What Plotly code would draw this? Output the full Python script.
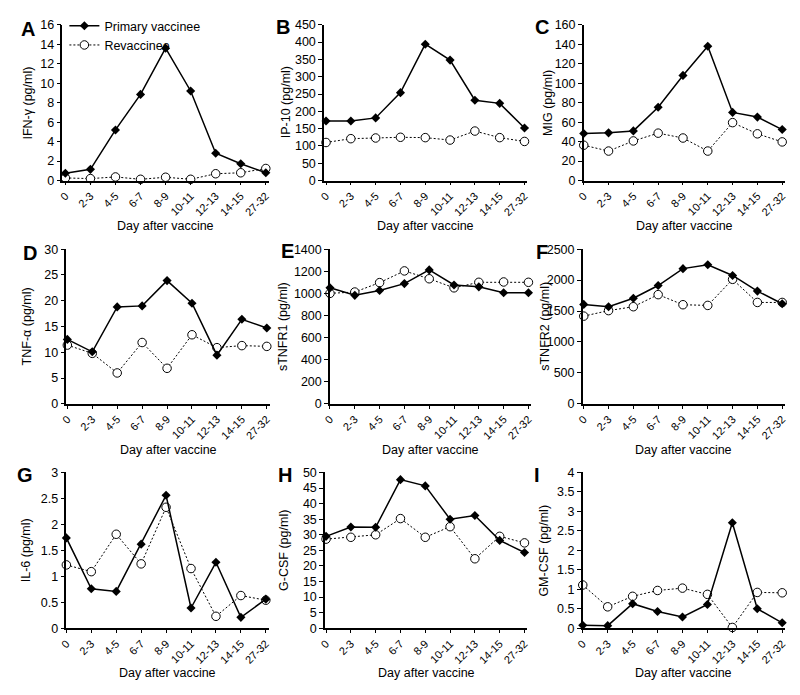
import plotly.graph_objects as go

# The page body has an 8px default margin, so the figure is drawn
# 8px smaller and every pixel position below is shifted by OFF.
OFF = 8
W, H = 800 - OFF, 695 - OFF

days = ["0", "2-3", "4-5", "6-7", "8-9", "10-11", "12-13", "14-15", "27-32"]

ifng_primary = [0.75, 1.15, 5.2, 8.85, 13.6, 9.2, 2.8, 1.72, 0.8]
ifng_revacc = [0.27, 0.2, 0.37, 0.13, 0.34, 0.13, 0.7, 0.8, 1.24]

ip10_primary = [172, 172, 181, 254, 394, 348, 232, 223, 152]
ip10_revacc = [110, 121, 123, 125, 124, 117, 143, 124, 113]

mig_primary = [48.4, 49, 51, 75.3, 108, 138, 70, 65.2, 52.4]
mig_revacc = [36.3, 30.3, 40.7, 48.7, 43.7, 30.3, 59.5, 48, 39.7]

tnfa_primary = [12.5, 10.1, 18.8, 19.0, 23.9, 19.5, 9.45, 16.4, 14.7]
tnfa_revacc = [11.4, 9.8, 6.0, 11.9, 6.9, 13.4, 10.9, 11.3, 11.15]

stnfr1_primary = [1050, 982, 1026, 1088, 1212, 1076, 1059, 1006, 1006]
stnfr1_revacc = [1000, 1012, 1097, 1203, 1132, 1050, 1100, 1103, 1100]

stnfr2_primary = [1607, 1570, 1707, 1912, 2185, 2248, 2075, 1822, 1618]
stnfr2_revacc = [1418, 1507, 1570, 1765, 1602, 1591, 2012, 1639, 1639]

il6_primary = [1.74, 0.76, 0.71, 1.62, 2.56, 0.39, 1.27, 0.21, 0.56]
il6_revacc = [1.22, 1.09, 1.81, 1.24, 2.33, 1.15, 0.23, 0.63, 0.54]

gcsf_primary = [29.5, 32.5, 32.4, 47.7, 45.7, 35.0, 36.2, 28.2, 24.3]
gcsf_revacc = [28.6, 29.2, 30.0, 35.2, 29.2, 32.6, 22.3, 29.5, 27.4]

gmcsf_primary = [0.076, 0.067, 0.63, 0.43, 0.29, 0.61, 2.71, 0.5, 0.14]
gmcsf_revacc = [1.11, 0.55, 0.82, 0.97, 1.03, 0.87, 0.02, 0.92, 0.91]

panel_letters = ["A", "B", "C", "D", "E", "F", "G", "H", "I"]
y_titles = ["IFN-γ (pg/ml)", "IP-10 (pg/ml)", "MIG (pg/ml)",
            "TNF-α (pg/ml)", "sTNFR1 (pg/ml)", "sTNFR2 (pg/ml)",
            "IL-6 (pg/ml)", "G-CSF (pg/ml)", "GM-CSF (pg/ml)"]
y_max = [16, 450, 160, 30, 1400, 2500, 3, 50, 4]
y_dtick = [2, 50, 20, 5, 200, 500, 0.5, 5, 0.5]
x_title = "Day after vaccine"
series_names = ["Primary vaccinee", "Revaccinee"]

primary = [ifng_primary, ip10_primary, mig_primary, tnfa_primary, stnfr1_primary,
           stnfr2_primary, il6_primary, gcsf_primary, gmcsf_primary]
revacc = [ifng_revacc, ip10_revacc, mig_revacc, tnfa_revacc, stnfr1_revacc,
          stnfr2_revacc, il6_revacc, gcsf_revacc, gmcsf_revacc]

# layout geometry (page pixels, converted with OFF below)
x_geom = [(55, 58, 261), (320, 322, 523), (583, 583, 784),
          (59, 60, 262), (326, 326, 527), (582, 583, 784),
          (59, 59, 261), (321, 322, 523), (582, 582, 784)]
row_y = [(18, 177), (247, 405), (475, 634)]
ytitle_x = [20, 281, 546, 19, 278, 543, 19, 280, 543]
letter_pos = [(20, 22), (278, 20), (541, 20), (22, 251), (283, 249), (541, 250),
              (17, 478), (280, 478), (536, 478)]
xtitle_y = [223, 452, 680]


def px(v):
    return (v - OFF) / W


def py(v):
    return 1 - (v - OFF) / H


FONT = "Liberation Sans, Arial, sans-serif"

fig = go.Figure()
annotations = []
layout = {}
for i in range(9):
    r, c = divmod(i, 3)
    n = "" if i == 0 else str(i + 1)
    ax_left, p0, p8 = x_geom[i]
    u = (p8 - p0) / 8.0
    xr = [-(p0 - ax_left) / u, 8 + 3 / u]
    y_top, y_bot = row_y[r]
    layout["xaxis" + n] = dict(
        domain=[px(ax_left), px(p8 + 3)], anchor="y" + n, type="category",
        range=xr, showline=True, linecolor="black", linewidth=1.5,
        ticks="outside", ticklen=3, tickwidth=1.3, tickcolor="black",
        tickangle=-45, showgrid=False, zeroline=False,
        tickfont=dict(family=FONT, size=11, color="black"))
    layout["yaxis" + n] = dict(
        domain=[py(y_bot), py(y_top)], anchor="x" + n,
        range=[0, y_max[i]], dtick=y_dtick[i], tick0=0,
        showline=True, linecolor="black", linewidth=1.5,
        ticks="outside", ticklen=4, tickwidth=1.3, tickcolor="black",
        showgrid=False, zeroline=False,
        tickfont=dict(family=FONT, size=12.5, color="black"))
    fig.add_trace(go.Scatter(
        x=days, y=revacc[i], xaxis="x" + n, yaxis="y" + n,
        mode="lines+markers", name=series_names[1], showlegend=(i == 0),
        legendrank=2,
        line=dict(color="black", width=1, dash="2px,2px"),
        marker=dict(symbol="circle", size=8.5, color="white",
                    line=dict(color="black", width=1)),
        cliponaxis=False))
    fig.add_trace(go.Scatter(
        x=days, y=primary[i], xaxis="x" + n, yaxis="y" + n,
        mode="lines+markers", name=series_names[0], showlegend=(i == 0),
        legendrank=1,
        line=dict(color="black", width=1.5),
        marker=dict(symbol="diamond", size=7, color="black"),
        cliponaxis=False))
    annotations.append(dict(
        text=y_titles[i], xref="paper", yref="paper", x=px(ytitle_x[i]),
        y=py((y_top + y_bot) / 2), textangle=-90, showarrow=False,
        xanchor="center", yanchor="middle",
        font=dict(family=FONT, size=12.5, color="black")))
    annotations.append(dict(
        text=x_title, xref="paper", yref="paper",
        x=px((ax_left + p8 + 3) / 2), y=py(xtitle_y[r]), showarrow=False,
        xanchor="center", yanchor="middle",
        font=dict(family=FONT, size=12.5, color="black")))
    lx, ly = letter_pos[i]
    annotations.append(dict(
        text="<b>" + panel_letters[i] + "</b>", xref="paper", yref="paper",
        x=px(lx), y=py(ly), showarrow=False, xanchor="center", yanchor="middle",
        font=dict(family=FONT, size=20, color="black")))

fig.update_layout(
    **layout,
    width=W, height=H, margin=dict(l=0, r=0, t=0, b=0),
    paper_bgcolor="white", plot_bgcolor="white",
    annotations=annotations,
    legend=dict(x=px(57), y=py(4), xanchor="left", yanchor="top",
                bgcolor="rgba(0,0,0,0)",
                font=dict(family=FONT, size=12.5, color="black"),
                itemwidth=30, tracegroupgap=0),
    showlegend=True,
)

fig.write_html("out.html")
